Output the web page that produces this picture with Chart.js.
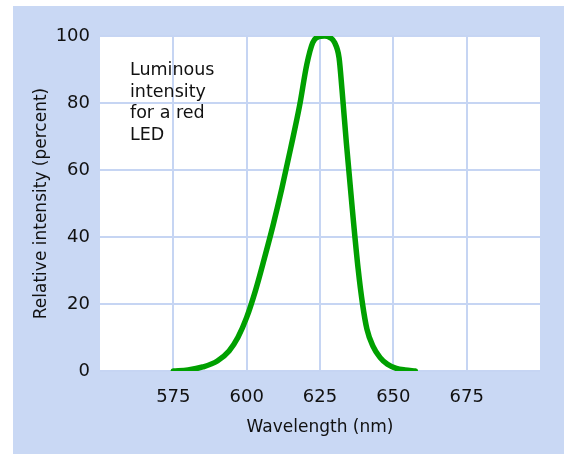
<!DOCTYPE html>
<html>
<head>
<meta charset="utf-8">
<script src="https://cdn.jsdelivr.net/npm/chart.js@4/dist/chart.umd.min.js"></script>
<style>
  html, body { margin: 0; padding: 0; background: #fff; }
  #wrap { width: 564px; height: 454px; }
</style>
</head>
<body>
<div id="wrap"><canvas id="led" width="564" height="454"></canvas></div>
<script>
// wavelength (nm) and relative intensity (%)
var wavelengths = [575, 580, 585, 590, 594, 597, 600, 603, 606, 609, 612, 615, 618, 620.5, 622.5, 624.5, 626.5, 628.5, 630, 631.5, 632.5, 634, 636, 638, 639.5, 641, 643, 645.5, 648, 651, 654, 657.5];
var intensity = [0, 0.3, 1.2, 3, 6, 10, 16, 24, 33.5, 43.5, 54.5, 66.5, 79, 91.5, 98, 99.8, 100, 99.5, 98, 93.5, 84, 68, 48.5, 30.5, 20, 12.5, 7.5, 4, 2, 0.8, 0.3, 0];
var xTicks = [575, 600, 625, 650, 675];
var noteLines = ['Luminous', 'intensity', 'for a red', 'LED'];

var PANEL = '#c9d8f4';
var GRID = '#c6d5f3';
var FONT = "'DejaVu Sans', sans-serif";

var points = [];
for (var i = 0; i < wavelengths.length; i++) {
  points.push({ x: wavelengths[i], y: intensity[i] });
}

var backdrop = {
  id: 'backdrop',
  beforeDraw: function (chart) {
    var ctx = chart.ctx, a = chart.chartArea;
    ctx.save();
    ctx.fillStyle = '#fff';
    ctx.fillRect(0, 0, chart.width, chart.height);
    ctx.fillStyle = PANEL;
    ctx.fillRect(13, 6, chart.width - 13, chart.height - 6);
    ctx.fillStyle = '#fff';
    ctx.fillRect(a.left, a.top, a.right - a.left, a.bottom - a.top);
    ctx.restore();
  }
};

var note = {
  id: 'note',
  afterDraw: function (chart) {
    var ctx = chart.ctx;
    ctx.save();
    ctx.fillStyle = '#111';
    ctx.font = '17.5px ' + FONT;
    ctx.textBaseline = 'alphabetic';
    for (var i = 0; i < noteLines.length; i++) {
      ctx.fillText(noteLines[i], 130, 75 + i * 21.7);
    }
    ctx.restore();
  }
};

new Chart(document.getElementById('led'), {
  type: 'line',
  data: {
    datasets: [{
      data: points,
      borderColor: '#00a000',
      borderWidth: 5.5,
      borderCapStyle: 'round',
      borderJoinStyle: 'round',
      pointRadius: 0,
      fill: false,
      cubicInterpolationMode: 'monotone'
    }]
  },
  options: {
    responsive: false,
    animation: false,
    layout: { padding: { left: 20, top: 36, right: 24, bottom: 0 } },
    plugins: { legend: { display: false }, tooltip: { enabled: false } },
    scales: {
      x: {
        type: 'linear',
        min: 550,
        max: 700,
        afterBuildTicks: function (scale) {
          scale.ticks = xTicks.map(function (v) { return { value: v }; });
        },
        afterFit: function (scale) { scale.height = 83; },
        grid: { color: GRID, lineWidth: 2, drawTicks: false },
        border: { display: false },
        ticks: { color: '#111', font: { family: FONT, size: 18 }, padding: 16, maxRotation: 0 },
        title: {
          display: true,
          text: 'Wavelength (nm)',
          color: '#111',
          font: { family: FONT, size: 17 },
          padding: { top: 0, bottom: 16 }
        }
      },
      y: {
        min: 0,
        max: 100,
        afterFit: function (scale) { scale.width = 80; },
        grid: { color: GRID, lineWidth: 2, drawTicks: false },
        border: { display: false },
        ticks: { stepSize: 20, color: '#111', font: { family: FONT, size: 18 }, padding: 10 },
        title: {
          display: true,
          text: 'Relative intensity (percent)',
          color: '#111',
          font: { family: FONT, size: 17 },
          padding: { top: 11, bottom: 0 }
        }
      }
    }
  },
  plugins: [backdrop, note]
});
</script>
</body>
</html>
